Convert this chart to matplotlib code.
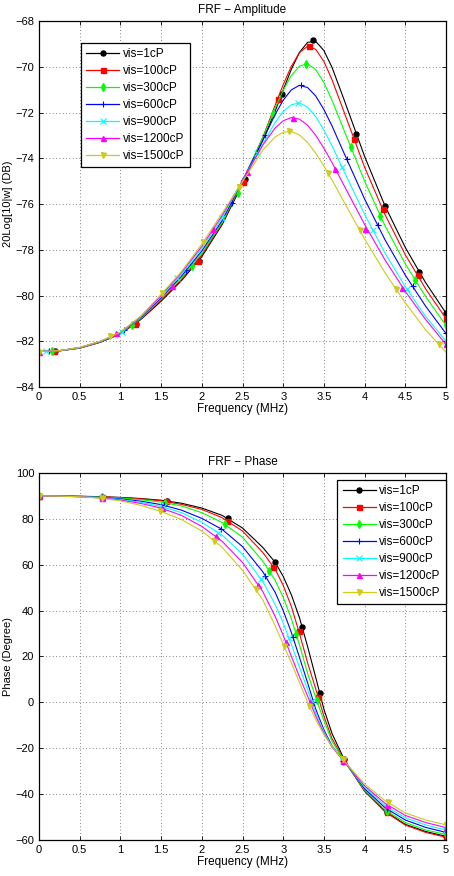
import matplotlib
matplotlib.use("Agg")
import matplotlib.pyplot as plt
from matplotlib.lines import Line2D

plt.rcParams['font.family'] = ['Liberation Sans', 'DejaVu Sans']
plt.rcParams['font.size'] = 8.5

labels = ['vis=1cP', 'vis=100cP', 'vis=300cP', 'vis=600cP', 'vis=900cP', 'vis=1200cP', 'vis=1500cP']
colors = ['k', 'r', (0, 1, 0), 'b', (0, 1, 1), (1, 0, 1), (0.8, 0.8, 0.1)]
markers = ['o', 's', 'd', '+', 'x', '^', 'v']

freq = [0, 0.25, 0.5, 0.75, 1.0, 1.25, 1.5, 1.75, 2.0, 2.25, 2.5, 2.75, 2.9, 3.0,
        3.1, 3.2, 3.3, 3.4, 3.5, 3.6, 3.75, 4.0, 4.25, 4.5, 4.75, 5.0]

# amplitude (dB)
amp_1 = [-82.45, -82.42, -82.3, -82.05, -81.68, -81.05, -80.25, -79.35, -78.3, -76.9, -75.12, -73.2, -71.95,
         -71.01, -70.11, -69.37, -68.93, -68.89, -69.29, -70.03, -71.46, -73.92, -76.08, -77.9, -79.44, -80.77]
amp_100 = [-82.45, -82.42, -82.3, -82.04, -81.66, -81.03, -80.2, -79.3, -78.22, -76.85, -75.05, -73.08, -71.69,
           -70.78, -69.98, -69.38, -69.1, -69.24, -69.77, -70.57, -72.0, -74.39, -76.46, -78.22, -79.71, -81.01]
amp_300 = [-82.45, -82.42, -82.29, -82.03, -81.65, -81.0, -80.15, -79.22, -78.15, -76.8, -75.0, -73.09, -71.81,
           -71.03, -70.38, -69.97, -69.87, -70.13, -70.69, -71.47, -72.8, -75.0, -76.95, -78.62, -80.05, -81.31]
amp_600 = [-82.45, -82.41, -82.28, -82.02, -81.63, -80.97, -80.1, -79.15, -78.05, -76.72, -74.98, -73.21, -72.09,
           -71.46, -71.01, -70.81, -70.91, -71.28, -71.87, -72.59, -73.8, -75.78, -77.56, -79.11, -80.47, -81.66]
amp_900 = [-82.45, -82.41, -82.28, -82.02, -81.62, -80.95, -80.05, -79.07, -77.95, -76.6, -74.97, -73.38, -72.44,
           -71.95, -71.66, -71.58, -71.77, -72.18, -72.77, -73.46, -74.59, -76.45, -78.14, -79.62, -80.92, -82.0]
amp_1200 = [-82.45, -82.41, -82.27, -82.01, -81.61, -80.92, -80.0, -79.0, -77.85, -76.5, -74.99, -73.42, -72.68,
            -72.36, -72.22, -72.29, -72.56, -73.0, -73.56, -74.19, -75.21, -76.89, -78.44, -79.82, -81.05, -82.14]
amp_1500 = [-82.45, -82.41, -82.27, -82.0, -81.6, -80.9, -79.95, -78.95, -77.75, -76.4, -75.03, -73.64, -73.07,
            -72.86, -72.83, -72.98, -73.31, -73.78, -74.34, -74.95, -75.93, -77.53, -79.0, -80.32, -81.5, -82.48]

# phase (degree)
ph_1 = [90, 89.95, 89.85, 89.65, 89.35, 88.85, 88.1, 86.8, 84.7, 81.5, 76.0, 67.5, 61.1, 54.9, 46.9, 36.9,
        24.3, 10.8, -3.0, -13.6, -24.9, -38.6, -47.4, -53.2, -56.3, -58.4]
ph_100 = [90, 89.95, 89.8, 89.6, 89.25, 88.7, 87.85, 86.3, 84.1, 80.5, 74.7, 65.3, 58.1, 51.0, 41.8, 30.0,
          17.2, 5.8, -6.0, -15.8, -25.3, -38.8, -47.7, -53.5, -56.7, -58.8]
ph_300 = [90, 89.95, 89.8, 89.5, 89.05, 88.35, 87.3, 85.6, 82.7, 78.4, 72.0, 61.5, 53.3, 45.8, 36.5, 25.1,
          12.6, 2.1, -8.0, -17.0, -25.5, -38.2, -46.8, -52.4, -55.6, -57.6]
ph_600 = [90, 89.9, 89.7, 89.35, 88.7, 87.7, 86.2, 83.8, 80.2, 75.4, 67.9, 56.9, 48.0, 40.0, 30.5, 19.6,
          8.5, -3.0, -12.0, -19.0, -25.7, -37.6, -45.9, -51.3, -54.5, -56.7]
ph_900 = [90, 89.9, 89.65, 89.25, 88.45, 87.2, 85.4, 82.7, 78.5, 72.9, 64.6, 52.6, 42.8, 34.6, 25.3, 15.3,
          5.5, -4.6, -12.8, -19.3, -25.8, -37.0, -45.0, -50.3, -53.4, -55.7]
ph_1200 = [90, 89.9, 89.6, 89.15, 88.2, 86.7, 84.7, 81.5, 76.7, 70.2, 61.0, 48.2, 37.6, 29.2, 20.1, 11.1,
           2.7, -6.0, -13.5, -19.5, -25.8, -36.4, -44.0, -49.3, -52.4, -54.6]
ph_1500 = [90, 89.9, 89.6, 89.05, 87.85, 85.85, 83.2, 79.7, 74.7, 67.6, 57.6, 44.6, 33.5, 25.3, 17.2, 8.6,
           0.1, -7.5, -14.0, -19.3, -25.6, -35.6, -42.8, -48.2, -51.3, -53.4]

# marker positions
amp_mk_f = [
    [0.2, 1.19, 1.96, 2.53, 2.98, 3.36, 3.90, 4.25, 4.67, 5.0],
    [0.19, 1.18, 1.95, 2.50, 2.93, 3.32, 3.87, 4.22, 4.65, 5.0],
    [0.16, 1.14, 1.88, 2.44, 2.87, 3.28, 3.83, 4.19, 4.62, 5.0],
    [0.12, 1.05, 1.81, 2.37, 2.78, 3.22, 3.78, 4.16, 4.59, 5.0],
    [0.08, 1.02, 1.70, 2.25, 2.68, 3.18, 3.72, 4.10, 4.52, 5.0],
    [0.0, 0.95, 1.63, 2.14, 2.56, 3.12, 3.64, 4.01, 4.46, 5.0],
    [0.0, 0.87, 1.515, 2.02, 2.46, 3.07, 3.55, 3.94, 4.38, 4.91],
]
amp_mk_y = [
    [-82.42, -81.24, -78.47, -74.9, -71.2, -68.85, -72.96, -76.1, -78.96, -80.77],
    [-82.42, -81.25, -78.5, -75.02, -71.41, -69.1, -73.17, -76.22, -79.09, -81.01],
    [-82.43, -81.3, -78.7, -75.5, -72.07, -69.86, -73.52, -76.52, -79.31, -81.31],
    [-82.44, -81.5, -78.9, -75.95, -72.98, -70.81, -74.04, -76.9, -79.57, -81.66],
    [-82.44, -81.6, -79.25, -76.6, -73.75, -71.58, -74.36, -77.15, -79.72, -82.0],
    [-82.45, -81.65, -79.57, -77.1, -74.6, -72.22, -74.46, -77.08, -79.67, -82.14],
    [-82.45, -81.79, -79.89, -77.66, -75.25, -72.82, -74.64, -77.15, -79.7, -82.13],
]
ph_mk_f = [
    [0, 0.78, 1.57, 2.32, 2.90, 3.23, 3.45, 3.75, 4.27, 5.0],
    [0, 0.77, 1.56, 2.31, 2.88, 3.19, 3.43, 3.74, 4.27, 5.0],
    [0, 0.77, 1.55, 2.28, 2.83, 3.16, 3.41, 3.74, 4.27, 5.0],
    [0, 0.77, 1.53, 2.24, 2.78, 3.12, 3.37, 3.74, 4.28, 5.0],
    [0, 0.77, 1.52, 2.20, 2.73, 3.07, 3.35, 3.74, 4.28, 5.0],
    [0, 0.77, 1.51, 2.17, 2.69, 3.03, 3.33, 3.74, 4.28, 5.0],
    [0, 0.77, 1.49, 2.15, 2.66, 3.01, 3.32, 3.73, 4.29, 5.0],
]
ph_mk_y = [
    [90, 89.6, 87.8, 80.2, 61.1, 33.0, 3.9, -24.8, -47.9, -58.4],
    [90, 89.55, 87.6, 79.1, 59.1, 31.2, 2.3, -25.2, -48.0, -58.8],
    [90, 89.5, 86.9, 77.6, 57.1, 29.7, 1.1, -25.4, -47.4, -57.6],
    [90, 89.35, 86.0, 75.6, 55.1, 28.3, 0.3, -25.6, -46.5, -56.7],
    [90, 89.2, 85.2, 74.0, 53.6, 28.1, 0.5, -25.6, -45.6, -55.7],
    [90, 89.1, 84.6, 72.3, 51.3, 26.5, 0.1, -25.7, -44.6, -54.6],
    [90, 89.0, 83.4, 70.5, 49.3, 24.5, -1.4, -24.8, -43.6, -53.4],
]

amps = [amp_1, amp_100, amp_300, amp_600, amp_900, amp_1200, amp_1500]
phases = [ph_1, ph_100, ph_300, ph_600, ph_900, ph_1200, ph_1500]

xticks = [0, 0.5, 1, 1.5, 2, 2.5, 3, 3.5, 4, 4.5, 5]
xtick_labels = ['0', '0.5', '1', '1.5', '2', '2.5', '3', '3.5', '4', '4.5', '5']


def marker_kw(c, m):
    if m in ('+', 'x'):
        return dict(marker=m, color=c, markersize=4.2, markeredgewidth=0.8)
    return dict(marker=m, color=c, markerfacecolor=c, markeredgecolor=c, markersize=3.6)


def style_axes(ax):
    ax.set_xlim(0, 5)
    ax.set_xticks(xticks)
    ax.set_xticklabels(xtick_labels)
    ax.tick_params(direction='in', length=3, width=0.6, top=True, right=True, labelsize=8, pad=3.5)
    ax.grid(True, color='0.35', linestyle=(0, (1, 3)), linewidth=0.6)
    for s in ax.spines.values():
        s.set_linewidth(0.9)
    ax.set_xlabel('Frequency (MHz)', fontsize=8.5, labelpad=1)


fig = plt.figure(figsize=(4.54, 8.76), dpi=100)
ax1 = fig.add_axes([0.0859, 0.5582, 0.8965, 0.4178])
ax2 = fig.add_axes([0.0859, 0.0411, 0.8965, 0.419])

handles = []
for i in range(7):
    ax1.plot(freq, amps[i], color=colors[i], linewidth=0.8)
    ax1.plot(amp_mk_f[i], amp_mk_y[i], linestyle='none', **marker_kw(colors[i], markers[i]))
    ax2.plot(freq, phases[i], color=colors[i], linewidth=0.8)
    ax2.plot(ph_mk_f[i], ph_mk_y[i], linestyle='none', **marker_kw(colors[i], markers[i]))
    handles.append(Line2D([], [], linewidth=0.9, label=labels[i], **marker_kw(colors[i], markers[i])))

style_axes(ax1)
ax1.set_ylim(-84, -68)
ax1.set_yticks(range(-84, -67, 2))
ax1.set_ylabel('20Log[10|w] (DB)', fontsize=8)
ax1.yaxis.set_label_coords(-0.063, 0.5)
ax1.set_title('FRF \u2212 Amplitude', fontsize=8.5, pad=6)

style_axes(ax2)
ax2.set_ylim(-60, 100)
ax2.set_yticks(range(-60, 101, 20))
ax2.set_ylabel('Phase (Degree)', fontsize=8)
ax2.yaxis.set_label_coords(-0.063, 0.5)
ax2.set_title('FRF \u2212 Phase', fontsize=8.5, pad=6)

leg_kw = dict(handles=handles, fontsize=8.5, fancybox=False, framealpha=1, edgecolor='k',
              handlelength=2.8, handletextpad=0.3, labelspacing=0.42, borderpad=0.45,
              borderaxespad=0, numpoints=1)
l1 = ax1.legend(loc='upper left', bbox_to_anchor=(0.103, 0.94), **leg_kw)
l1.get_frame().set_linewidth(0.9)
l2 = ax2.legend(loc='upper right', bbox_to_anchor=(1.0, 0.981), **leg_kw)
l2.get_frame().set_linewidth(0.9)

fig.savefig('out.png', dpi=100)
